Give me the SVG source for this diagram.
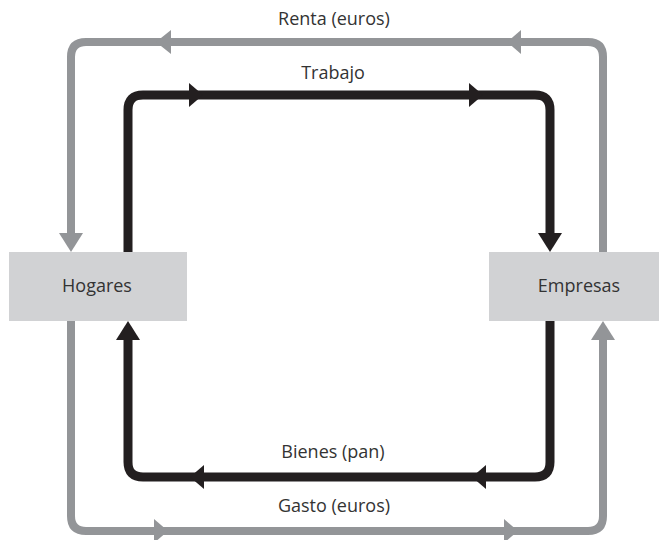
<svg xmlns="http://www.w3.org/2000/svg" width="659" height="540" viewBox="0 0 659 540">
<style>
.g{fill:none;stroke:#939598;stroke-width:8}
.k{fill:none;stroke:#231f20;stroke-width:9}
.ga{fill:#939598}
.ka{fill:#231f20}
.box{fill:#d1d2d4}
text{font-family:"Open Sans","Liberation Sans",sans-serif;font-size:18px;fill:#333;text-anchor:middle}
</style>
<g id="connectors">
<path class="g" d="M603,252 V57 Q603,42 588,42 H86 Q71,42 71,57 V236"/>
<path class="g" d="M71,321 V516 Q71,531 86,531 H588 Q603,531 603,516 V337"/>
<path class="k" d="M128,252 V110 Q128,95 143,95 H535 Q550,95 550,110 V236"/>
<path class="k" d="M550,321 V462 Q550,477 535,477 H143 Q128,477 128,462 V337"/>
<polygon class="ga" points="156,42 171,30 171,54"/>
<polygon class="ga" points="507,42 521,30 521,54"/>
<polygon class="ga" points="71,252 59,233 83,233"/>
<polygon class="ga" points="168,531 154,519 154,543"/>
<polygon class="ga" points="518,531 504,519 504,543"/>
<polygon class="ga" points="603,321 591,340 615,340"/>
<polygon class="ka" points="203,95 189,83 189,107"/>
<polygon class="ka" points="483,95 469,83 469,107"/>
<polygon class="ka" points="550,252 538,233 562,233"/>
<polygon class="ka" points="190,477 204,465 204,489"/>
<polygon class="ka" points="472,477 486,465 486,489"/>
<polygon class="ka" points="128,321 116,340 140,340"/>
</g>
<g id="hogares">
<rect class="box" x="9" y="252" width="178" height="69"/>
<text x="97" y="292">Hogares</text>
</g>
<g id="empresas">
<rect class="box" x="489" y="252" width="170" height="69"/>
<text x="579" y="292">Empresas</text>
</g>
<g id="labels">
<text x="334" y="25">Renta (euros)</text>
<text x="333" y="79">Trabajo</text>
<text x="333" y="458">Bienes (pan)</text>
<text x="334" y="512">Gasto (euros)</text>
</g>
</svg>
